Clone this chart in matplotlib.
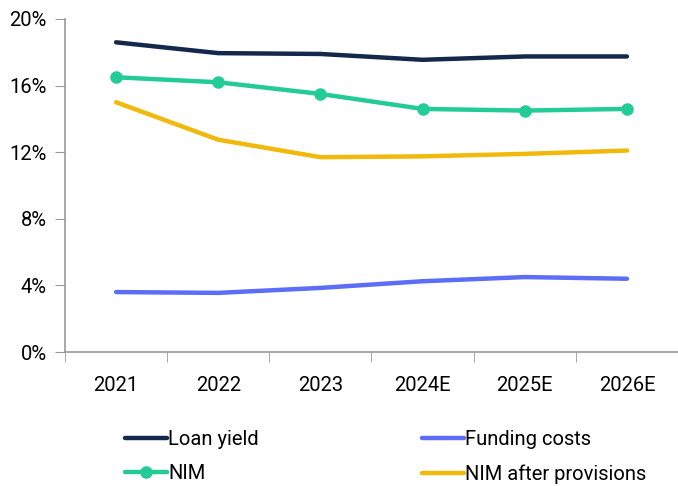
import matplotlib
matplotlib.use("Agg")
import matplotlib.pyplot as plt
import numpy as np

categories = ["2021", "2022", "2023", "2024E", "2025E", "2026E"]
loan_yield = [18.6, 17.95, 17.9, 17.55, 17.75, 17.75]
funding_costs = [3.6, 3.55, 3.85, 4.25, 4.5, 4.4]
nim = [16.5, 16.2, 15.5, 14.6, 14.5, 14.6]
nim_after = [15.0, 12.75, 11.7, 11.75, 11.9, 12.1]
yticks = [0, 4, 8, 12, 16, 20]

plt.rcParams["font.family"] = ["Roboto", "DejaVu Sans"]

fig = plt.figure(figsize=(6.78, 4.86), dpi=100)
ax = fig.add_axes([65/678, 1-352/486, 1-65/678, (352-19)/486])

x = np.arange(len(categories))
lw = 3.2
h1, = ax.plot(x, loan_yield, color="#14284b", lw=lw, solid_capstyle="round", label="Loan yield")
h2, = ax.plot(x, funding_costs, color="#5b6ef5", lw=lw, solid_capstyle="round", label="Funding costs")
h3, = ax.plot(x, nim, color="#23cc96", lw=lw, marker="o", ms=8, solid_capstyle="round", label="NIM")
h4, = ax.plot(x, nim_after, color="#f0b90b", lw=lw, solid_capstyle="round", label="NIM after provisions")

ax.set_xlim(-0.5, len(categories) - 0.5)
ax.set_ylim(0, 20)
ax.set_yticks(yticks)
ax.set_yticklabels([f"{v}%" for v in yticks])
ax.set_xticks(x)
ax.set_xticklabels(categories)
ax.set_xticks(np.arange(-0.5, len(categories)), minor=True)
ax.tick_params(axis="x", which="major", length=0, pad=17, labelsize=14.5)
ax.tick_params(axis="x", which="minor", length=7, color="#9a9a9a")
ax.tick_params(axis="y", length=7, color="#9a9a9a", labelsize=14.5, pad=6)
for s in ["top", "right"]:
    ax.spines[s].set_visible(False)
for s in ["left", "bottom"]:
    ax.spines[s].set_color("#9a9a9a")
    ax.spines[s].set_linewidth(1.2)

fig.legend(handles=[h1, h3, h2, h4], ncol=2, loc="lower left",
           bbox_to_anchor=(117/678, -0.012), frameon=False, fontsize=14.5,
           handlelength=2.1, handletextpad=0.05, columnspacing=8.1,
           labelspacing=0.75, borderaxespad=0.0)

fig.savefig("out.png", dpi=100)
